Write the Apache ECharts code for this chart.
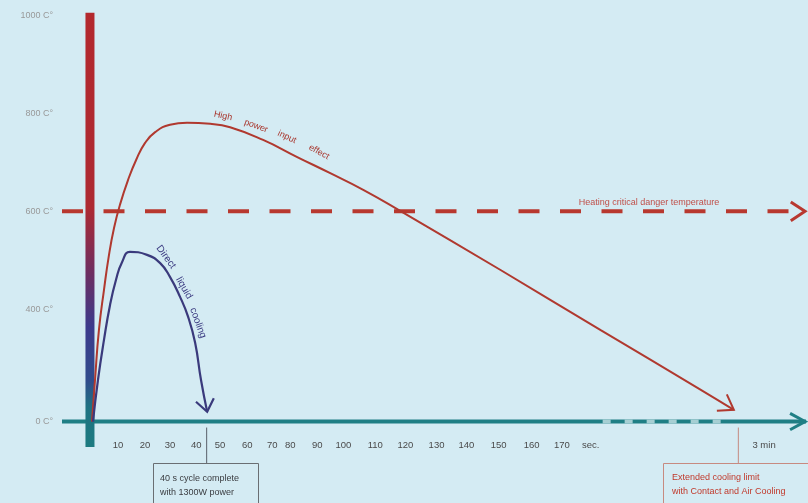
<!DOCTYPE html>
<html><head><meta charset="utf-8">
<script src="https://cdn.jsdelivr.net/npm/echarts@6/dist/echarts.min.js"></script>
<style>html,body{margin:0;padding:0;background:#d4ebf3}#c{width:808px;height:503px}</style>
</head><body><div id="c"></div>
<script>
// ---- tick labels (axis units: seconds-ish on x, drawing °C on y) ----
const yTickText = ['0 C°', '400 C°', '600 C°', '800 C°', '1000 C°'];
const yTickAt   = [170, 400, 600, 800, 1000];
const yTickColor = ['#9ea7a9', '#6f7797', '#c0463e', '#c98080', '#c98080'];
const xTickText = ['10','20','30','40','50','60','70','80','90','100','110','120','130','140','150','160','170','sec.','3 min'];
const xTickAt   = [10.0,19.7,28.6,38.0,46.5,56.2,65.2,71.6,81.3,90.6,102.0,112.8,123.9,134.6,146.1,157.9,168.7,179.0,241.0];

// ---- reference levels ----
const baseline = 170;      // "0 C°" line
const dangerTemp = 600;    // critical danger temperature
const barTop = 1006;
const barBottom = 118;

// ---- series values [time, temperature] ----
const highPowerInput = [[0.7,170],[1.8,255],[3.2,357],[5.0,439],[6.8,511],[8.6,566],[10.7,613],[13.6,664],[16.5,705],[19.7,740],[23.3,762],[28.6,777],[34.7,781],[43.0,779],[50.1,772],[61.9,746],[74.1,711],[85.9,678],[97.7,644],[110.3,603],[146.8,480],[182.6,357],[218.4,235],[230.2,194]];
const directLiquid   = [[1.07,170],[2.86,255],[5.01,337],[7.16,408],[9.31,460],[11.46,496],[14.3,517],[20.4,511],[25.1,494],[28.6,466],[32.2,425],[35.1,384],[37.6,331],[39.7,255],[41.9,190]];
const dashedAxisSpan = [183.3, 230.2];

const xMin = -10, xMax = 256, yMin = 120, yMax = 1020;
const FONT = 'Liberation Sans, Arial, sans-serif';

const chart = echarts.init(document.getElementById('c'), null, {renderer: 'canvas'});
const option = {
  animation: false,
  backgroundColor: '#d4ebf3',
  grid: {left: 62, right: 2, top: 6, bottom: 57},
  xAxis: {
    type: 'value', min: xMin, max: xMax,
    axisLine: {show: false}, axisTick: {show: false}, splitLine: {show: false},
    axisLabel: {
      customValues: xTickAt, margin: -6, fontSize: 9.5, fontFamily: FONT,
      color: v => (xTickText[xTickAt.indexOf(v)] === 'sec.' ? '#7a7f82' : '#4a4a4a'),
      formatter: v => { const i = xTickAt.indexOf(v); return i >= 0 ? xTickText[i] : ''; }
    }
  },
  yAxis: {
    type: 'value', min: yMin, max: yMax,
    axisLine: {show: false}, axisTick: {show: false}, splitLine: {show: false},
    axisLabel: {
      customValues: yTickAt, margin: 9, fontSize: 9, fontFamily: FONT,
      color: (v) => { const i = yTickAt.indexOf(v); return i >= 0 ? yTickColor[i] : '#999'; },
      formatter: v => { const i = yTickAt.indexOf(v); return i >= 0 ? yTickText[i] : ''; }
    }
  },
  series: [
    {type: 'line', name: 'danger', data: [[xMin, dangerTemp], [xMax - 5.5, dangerTemp]], showSymbol: false, silent: true, z: 2,
     lineStyle: {color: '#b8382f', width: 4, type: [21, 20.5], cap: 'butt'}},
    {type: 'line', name: 'axis', data: [[xMin, baseline], [xMax, baseline]], showSymbol: false, silent: true, z: 3,
     lineStyle: {color: '#1f7f85', width: 4}},
    {type: 'line', name: 'axisDash', data: [[dashedAxisSpan[0], baseline], [dashedAxisSpan[1], baseline]], showSymbol: false, silent: true, z: 4,
     lineStyle: {color: '#a6cfd3', width: 4, type: [8, 14]}},
    {type: 'line', name: 'bar', data: [[0, barTop], [0, barBottom]], showSymbol: false, silent: true, z: 5, clip: false,
     lineStyle: {width: 9, cap: 'butt', color: new echarts.graphic.LinearGradient(0, 0, 0, 1, [
       {offset: 0, color: '#b3282d'}, {offset: 0.45, color: '#ad2a32'}, {offset: 0.6, color: '#6c2e62'},
       {offset: 0.72, color: '#3c3a8c'}, {offset: 0.84, color: '#304c8c'}, {offset: 0.9, color: '#1f7282'}, {offset: 1, color: '#1c7c80'}])}},
    {type: 'line', name: 'High power input effect', data: highPowerInput, smooth: 0.5, showSymbol: false, z: 6,
     lineStyle: {color: '#b0392f', width: 2}},
    {type: 'line', name: 'Direct liquid cooling', data: directLiquid, smooth: 0.5, showSymbol: false, z: 6,
     lineStyle: {color: '#3a3a7c', width: 2.2}}
  ]
};
chart.setOption(option);

function P(p) { return chart.convertToPixel({gridIndex: 0}, p); }
function chevron(tip, from, len, half, color, width) {
  const a = Math.atan2(tip[1] - from[1], tip[0] - from[0]);
  const p1 = [tip[0] - len * Math.cos(a - half), tip[1] - len * Math.sin(a - half)];
  const p2 = [tip[0] - len * Math.cos(a + half), tip[1] - len * Math.sin(a + half)];
  return {type: 'polyline', z: 100, shape: {points: [p1, tip, p2]}, style: {stroke: color, lineWidth: width, fill: 'none', lineJoin: 'miter'}};
}
function word(t, x, y, deg, color, size) {
  return {type: 'text', x: x, y: y, rotation: -deg * Math.PI / 180, z: 100,
    style: {text: t, x: 0, y: 0, align: 'center', verticalAlign: 'middle', fill: color, font: size + 'px ' + FONT}};
}

const g = [];
const rEnd = P(highPowerInput[highPowerInput.length - 1]), rPrev = P(highPowerInput[highPowerInput.length - 2]);
g.push(chevron(rEnd, rPrev, 17, 0.6, '#b0392f', 2));
const bEnd = P(directLiquid[directLiquid.length - 1]), bPrev = P(directLiquid[directLiquid.length - 2]);
g.push(chevron(bEnd, bPrev, 15, 0.65, '#3a3a7c', 2.2));
const aEnd = P([xMax, baseline]);
g.push(chevron([aEnd[0] - 1, aEnd[1]], [aEnd[0] - 30, aEnd[1]], 17, 0.5, '#1f7f85', 3));
const dEnd = P([xMax, dangerTemp]);
g.push(chevron([dEnd[0] - 1, dEnd[1]], [dEnd[0] - 30, dEnd[1]], 17, 0.58, '#b8382f', 3));

// event ticks below the axis
const base = P([0, baseline])[1];
g.push({type: 'line', z: 100, shape: {x1: bEnd[0] - 0.5, y1: base + 6, x2: bEnd[0] - 0.5, y2: 463}, style: {stroke: '#5a5f6a', lineWidth: 1}});
g.push({type: 'line', z: 100, shape: {x1: rEnd[0] + 4.5, y1: base + 6, x2: rEnd[0] + 4.5, y2: 463}, style: {stroke: '#c58a80', lineWidth: 1}});

// annotation boxes
g.push({type: 'rect', z: 100, shape: {x: 153.5, y: 463.5, width: 105, height: 50}, style: {fill: 'none', stroke: '#6a6e72', lineWidth: 1}});
g.push({type: 'text', z: 101, x: 160, y: 472, style: {text: '40 s cycle complete\nwith 1300W power', fill: '#3a3c40', font: '9px ' + FONT, lineHeight: 14}});
g.push({type: 'rect', z: 100, shape: {x: 663.5, y: 463.5, width: 160, height: 50}, style: {fill: 'none', stroke: '#c78a80', lineWidth: 1}});
g.push({type: 'text', z: 101, x: 672, y: 471, style: {text: 'Extended cooling limit\nwith Contact and Air Cooling', fill: '#c0392b', font: '9px ' + FONT, lineHeight: 14}});

// curve captions
g.push(word('High', 223, 116, 12, '#a8352c', 9));
g.push(word('power', 256, 126, 20, '#a8352c', 9));
g.push(word('input', 287, 137, 25, '#a8352c', 9));
g.push(word('effect', 319, 152, 29, '#a8352c', 9));
g.push(word('Direct', 166, 257, 54, '#3a3a80', 10));
g.push(word('liquid', 184, 288, 60, '#3a3a80', 10));
g.push(word('cooling', 198, 323, 70, '#3a3a80', 10));
g.push({type: 'text', z: 101, x: 649, y: 203, style: {text: 'Heating critical danger temperature', fill: '#c0504a', font: '9px ' + FONT, align: 'center', verticalAlign: 'middle'}});

chart.setOption({graphic: g});
</script>
</body></html>
